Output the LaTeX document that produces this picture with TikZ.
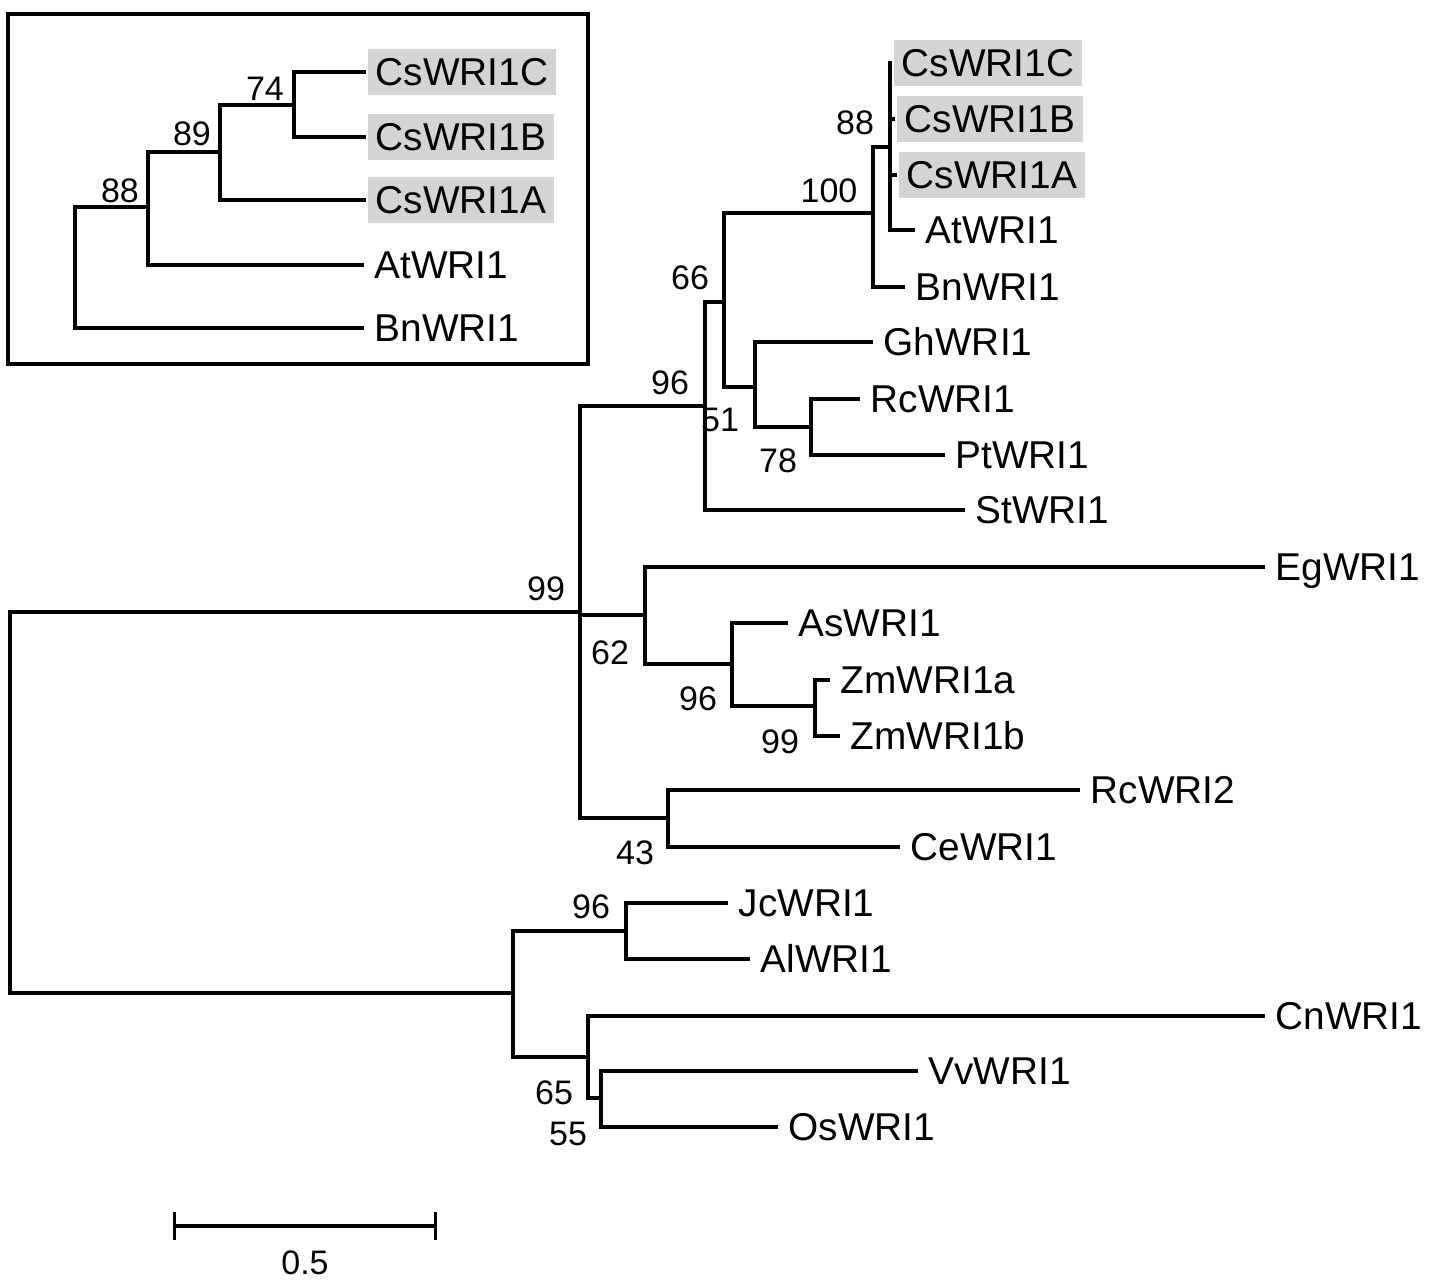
\documentclass[tikz,border=0pt]{standalone}
\usepackage{fontspec}
\setmainfont{Liberation Sans}
\usepackage{xcolor}
\usepackage{tikz}
\usetikzlibrary{arrows.meta}
\definecolor{hlgray}{RGB}{212,212,212}
\newcommand\leaffont[0]{\fontsize{19.4}{22}\selectfont}
\newcommand\bsfont[0]{\fontsize{17}{19}\selectfont}
\tikzset{
  leaf/.style={anchor=west, inner xsep=4.5pt, inner ysep=0pt, font=\leaffont, text height=13.9pt, text depth=0pt},
  csleaf/.style={leaf, fill=hlgray, minimum height=23pt, inner xsep=4pt},
  bs/.style={inner sep=0pt, font=\bsfont, text height=12.2pt, text depth=0pt},
  branch/.style={line width=1.6pt, line join=miter},
}

\begin{document}
\begin{tikzpicture}[x=0.5pt,y=-0.5pt,branch]
  \useasboundingbox (0,0) rectangle (1450,1284);
  % inset
  \draw (8,14) rectangle (588,364);
  \coordinate (i88) at (75,268);
  \coordinate (i89) at (148,207);
  \coordinate (i74) at (220,152);
  \coordinate (icb) at (294,105);
  \node[csleaf] (iC) at (366,72) {CsWRI1C};
  \node[csleaf] (iB) at (366,137) {CsWRI1B};
  \node[csleaf] (iA) at (366,200) {CsWRI1A};
  \node[leaf] (iAt) at (364,265) {AtWRI1};
  \node[leaf] (iBn) at (364,328) {BnWRI1};
  \draw (i88) |- (i89) (i88) |- (iBn.west)
        (i89) |- (i74) (i89) |- (iAt.west)
        (i74) |- (icb) (i74) |- (iA.west)
        (icb) |- (iC.west) (icb) |- (iB.west);
  \node[bs] at (120,190) {88};
  \node[bs] at (192,133) {89};
  \node[bs] at (265,88) {74};

  % main tree
  \coordinate (root) at (10,802);
  \coordinate (n99) at (580,612);
  \coordinate (n96a) at (705,406);
  \coordinate (n66) at (724,302);
  \coordinate (n100) at (873,213);
  \coordinate (n88) at (890,147);
  \coordinate (n51) at (755,387);
  \coordinate (n78) at (811,427);
  \coordinate (n62) at (645,615);
  \coordinate (n96b) at (732,664);
  \coordinate (n99b) at (815,706);
  \coordinate (n43) at (668,818);
  \coordinate (nlow) at (513,993);
  \coordinate (n96c) at (626,931);
  \coordinate (n65) at (588,1057);
  \coordinate (n55) at (601,1098);

  \node[csleaf] (CsC) at (892,63) {CsWRI1C};
  \node[csleaf] (CsB) at (895,119) {CsWRI1B};
  \node[csleaf] (CsA) at (897,175) {CsWRI1A};
  \node[leaf] (At) at (915,230) {AtWRI1};
  \node[leaf] (Bn) at (905,287) {BnWRI1};
  \node[leaf] (Gh) at (873,342) {GhWRI1};
  \node[leaf] (Rc) at (860,399) {RcWRI1};
  \node[leaf] (Pt) at (945,455) {PtWRI1};
  \node[leaf] (St) at (965,510) {StWRI1};
  \node[leaf] (Eg) at (1265,567) {EgWRI1};
  \node[leaf] (As) at (788,623) {AsWRI1};
  \node[leaf] (Zma) at (830,680) {ZmWRI1a};
  \node[leaf] (Zmb) at (840,736) {ZmWRI1b};
  \node[leaf] (Rc2) at (1080,790) {RcWRI2};
  \node[leaf] (Ce) at (900,847) {CeWRI1};
  \node[leaf] (Jc) at (728,903) {JcWRI1};
  \node[leaf] (Al) at (750,959) {AlWRI1};
  \node[leaf] (Cn) at (1265,1016) {CnWRI1};
  \node[leaf] (Vv) at (918,1071) {VvWRI1};
  \node[leaf] (Os) at (778,1127) {OsWRI1};

  \draw (root) |- (n99) (root) |- (nlow)
        (n99) |- (n96a) (n99) |- (n62) (n99) |- (n43)
        (n96a) |- (n66) (n96a) |- (St.west)
        (n66) |- (n100) (n66) |- (n51)
        (n100) |- (n88) (n100) |- (Bn.west)
        (n88) |- (CsC.west) (n88) |- (CsB.west) (n88) |- (CsA.west) (n88) |- (At.west)
        (n51) |- (Gh.west) (n51) |- (n78)
        (n78) |- (Rc.west) (n78) |- (Pt.west)
        (n62) |- (Eg.west) (n62) |- (n96b)
        (n96b) |- (As.west) (n96b) |- (n99b)
        (n99b) |- (Zma.west) (n99b) |- (Zmb.west)
        (n43) |- (Rc2.west) (n43) |- (Ce.west)
        (nlow) |- (n96c) (nlow) |- (n65)
        (n96c) |- (Jc.west) (n96c) |- (Al.west)
        (n65) |- (Cn.west) (n65) |- (n55)
        (n55) |- (Vv.west) (n55) |- (Os.west);

  % bootstrap values
  \node[bs] at (855,122) {88};
  \node[bs] at (829,190) {100};
  \node[bs] at (690,277) {66};
  \node[bs] at (670,382) {96};
  \node[bs] at (720,419) {51};
  \node[bs] at (778,460) {78};
  \node[bs] at (546,588) {99};
  \node[bs] at (610,652) {62};
  \node[bs] at (698,698) {96};
  \node[bs] at (780,741) {99};
  \node[bs] at (635,852) {43};
  \node[bs] at (591,906) {96};
  \node[bs] at (554,1092) {65};
  \node[bs] at (568,1133) {55};

  % scale bar
  \coordinate (barl) at (173,1226);
  \coordinate (barr) at (437,1226);
  \draw[{Bar[width=14pt]}-{Bar[width=14pt]}] (barl) -- (barr);
  \node[bs] (barlabel) at (305,1262) {0.5};
\end{tikzpicture}
\end{document}
